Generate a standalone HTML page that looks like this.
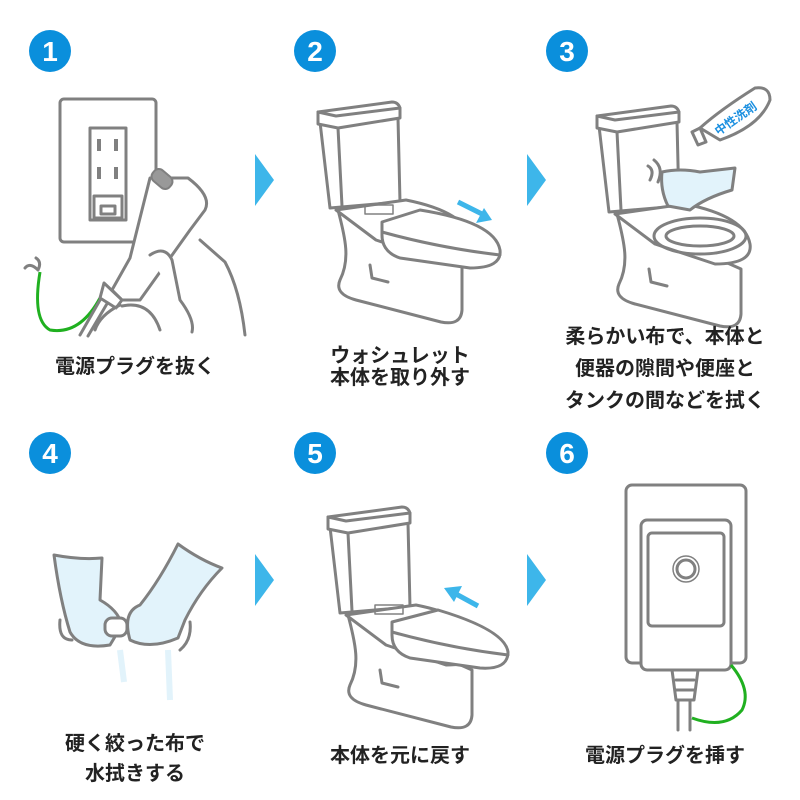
<!DOCTYPE html>
<html><head><meta charset="utf-8"><style>
html,body{margin:0;padding:0;background:#fff}
svg{display:block}
text{font-family:"Liberation Sans","Noto Sans CJK JP",sans-serif;font-weight:bold;fill:#222}
.s{fill:none;stroke:#808080;stroke-width:3;stroke-linejoin:round;stroke-linecap:round}
.w{fill:#fff;stroke:#808080;stroke-width:3;stroke-linejoin:round;stroke-linecap:round}
.h{fill:#e2f3fb;stroke:#808080;stroke-width:3;stroke-linejoin:round;stroke-linecap:round}
</style></head><body>
<svg width="800" height="800" viewBox="0 0 800 800" xmlns="http://www.w3.org/2000/svg">
<defs>
<g id="toilet">
 <path class="w" d="M22,110 C30,140 34,160 24,180 Q18,194 40,200 L125,222 Q145,226 146,210 L146,165 Z"/>
 <path class="w" d="M4,22 L14,108 L84,102 L82,18 Z"/>
 <path class="w" d="M2,12 L76,2 Q82,2 84,8 L84,18 L22,28 L2,24 Z"/>
 <path class="s" d="M22,28 L26,106"/>
 <path class="s" d="M2,12 L20,16 L84,8"/>
 <path class="s" d="M54,165 L56,178 L72,182"/>
 <path class="w" d="M20,110 L90,100 Q150,112 155,140 Q158,160 120,160 L60,140 Z"/>
</g>
</defs>

<!-- number circles -->
<g fill="#0a8fdc">
<circle cx="50" cy="51" r="21"/><circle cx="315" cy="51" r="21"/><circle cx="567" cy="51" r="21"/>
<circle cx="50" cy="453" r="21"/><circle cx="315" cy="453" r="21"/><circle cx="567" cy="453" r="21"/>
</g>
<g font-size="28" text-anchor="middle" style="font-family:'Liberation Sans',sans-serif;font-weight:bold">
<text x="50" y="61" fill="#fff" style="fill:#fff">1</text>
<text x="315" y="61" style="fill:#fff">2</text>
<text x="567" y="61" style="fill:#fff">3</text>
<text x="50" y="463" style="fill:#fff">4</text>
<text x="315" y="463" style="fill:#fff">5</text>
<text x="567" y="463" style="fill:#fff">6</text>
</g>

<!-- step arrows -->
<g fill="#3db6ea">
<polygon points="255,154 274,180 255,206"/>
<polygon points="527,154 546,180 527,206"/>
<polygon points="255,554 274,580 255,606"/>
<polygon points="527,554 546,580 527,606"/>
</g>

<!-- step 1 -->
<rect class="s" x="60" y="99" width="96" height="143" rx="4"/>
<rect class="s" x="90" y="128" width="36" height="92"/>
<g fill="#808080"><rect x="97" y="139" width="4" height="12"/><rect x="114" y="139" width="4" height="12"/><rect x="97" y="167" width="4" height="12"/><rect x="114" y="167" width="4" height="12"/></g>
<rect class="s" x="94" y="196" width="28" height="22"/><rect class="s" x="101" y="206" width="14" height="8"/>
<path class="s" d="M38,270 Q30,262 25,268 M38,270 Q42,262 36,258"/>
<path d="M40,272 Q32,320 50,330 Q80,335 100,298" fill="none" stroke="#20b020" stroke-width="3"/>
<path class="s" d="M100,300 L80,335 M108,302 L88,336"/>
<path class="w" d="M150,178 L188,178 Q212,196 205,210 L190,230 L140,300 L122,300 L112,290 L130,258 Z"/>
<rect x="151" y="172" width="22" height="14" rx="6" fill="#999" stroke="#808080" stroke-width="2" transform="rotate(40 162 179)"/>
<path class="w" d="M104,283 L122,300 L116,308 L100,298 Z"/>
<path class="w" d="M150,255 Q165,245 172,260 L180,300 Q195,320 192,332 M200,240 L225,262 Q240,290 245,335 M122,306 Q150,300 160,330 M95,330 Q100,315 120,305"/>

<!-- step 2 -->
<use href="#toilet" x="316" y="100"/>
<rect x="365" y="205" width="28" height="9" class="s" style="stroke-width:1.5"/>
<path class="w" d="M382,222 L420,210 Q495,222 500,250 Q502,268 470,268 L400,258 Q382,252 382,235 Z"/>
<path class="s" d="M382,232 Q440,248 500,255"/>
<path d="M458,202 L482,214" stroke="#3db6ea" stroke-width="5"/><polygon points="492,220 476,223 484,208" fill="#3db6ea"/>

<!-- step 3 -->
<use href="#toilet" x="595" y="104"/>
<ellipse class="s" cx="700" cy="236" rx="46" ry="18"/>
<ellipse class="s" cx="700" cy="236" rx="34" ry="10"/>
<path class="h" d="M662,172 Q680,168 700,172 L735,168 L732,190 Q705,198 690,210 L668,206 Q660,190 662,172 Z"/>
<path class="s" d="M648,166 Q655,170 650,180 M654,160 Q664,168 658,182"/>
<path class="w" d="M700,128 Q720,110 755,88 Q770,86 770,100 Q760,126 720,140 Z"/>
<path class="w" d="M692,132 L700,128 L706,142 L698,145 Z"/>
<text x="738" y="122" font-size="12" transform="rotate(-35 738 122)" style="fill:#1a8fe0" text-anchor="middle">中性洗剤</text>

<!-- step 4 -->
<path class="h" d="M54,555 Q80,560 102,558 L100,600 Q118,610 122,625 L110,645 Q80,650 70,632 Q60,600 54,555 Z"/>
<path class="h" d="M178,544 Q200,560 222,568 Q200,590 185,620 L178,638 Q150,650 130,640 Q122,612 140,605 Q160,580 178,544 Z"/>
<rect x="105" y="618" width="22" height="18" rx="7" class="w"/>
<path d="M120,650 L124,682 M168,650 L170,700" stroke="#e2f3fb" stroke-width="6"/>
<path class="s" d="M60,620 Q58,640 72,640 M190,622 Q192,640 180,650"/>

<!-- step 5 -->
<use href="#toilet" x="326" y="505"/>
<rect x="375" y="605" width="28" height="9" class="s" style="stroke-width:1.5"/>
<path class="w" d="M392,622 L438,610 Q505,630 508,652 Q508,670 480,668 L410,658 Q392,652 392,635 Z"/>
<path class="s" d="M392,632 Q450,648 508,655"/>
<path d="M478,606 L456,594" stroke="#3db6ea" stroke-width="5"/><polygon points="444,588 462,586 454,602" fill="#3db6ea"/>

<!-- step 6 -->
<rect class="s" x="626" y="485" width="120" height="178" rx="6"/>
<rect class="w" x="641" y="520" width="90" height="150" rx="6"/>
<rect class="s" x="648" y="533" width="76" height="93" rx="4"/>
<circle class="s" cx="686" cy="569" r="13" style="stroke-width:1.5"/>
<circle class="s" cx="686" cy="569" r="9"/>
<path class="w" d="M672,670 L698,670 L694,700 L676,700 Z"/>
<path class="s" d="M676,680 L694,680 M676,690 L694,690"/>
<path class="s" d="M678,700 L678,730 M690,700 L690,730"/>
<path d="M731,665 Q752,690 742,710 Q725,730 692,718" fill="none" stroke="#20b020" stroke-width="3"/>

<!-- labels -->
<g font-size="20" text-anchor="middle">
<text x="135" y="373">電源プラグを抜く</text>
<text x="400" y="362">ウォシュレット</text>
<text x="400" y="384">本体を取り外す</text>
<text x="665" y="343">柔らかい布で、本体と</text>
<text x="665" y="375">便器の隙間や便座と</text>
<text x="665" y="407">タンクの間などを拭く</text>
<text x="135" y="750">硬く絞った布で</text>
<text x="135" y="780">水拭きする</text>
<text x="400" y="762">本体を元に戻す</text>
<text x="665" y="762">電源プラグを挿す</text>
</g>
</svg>
</body></html>
